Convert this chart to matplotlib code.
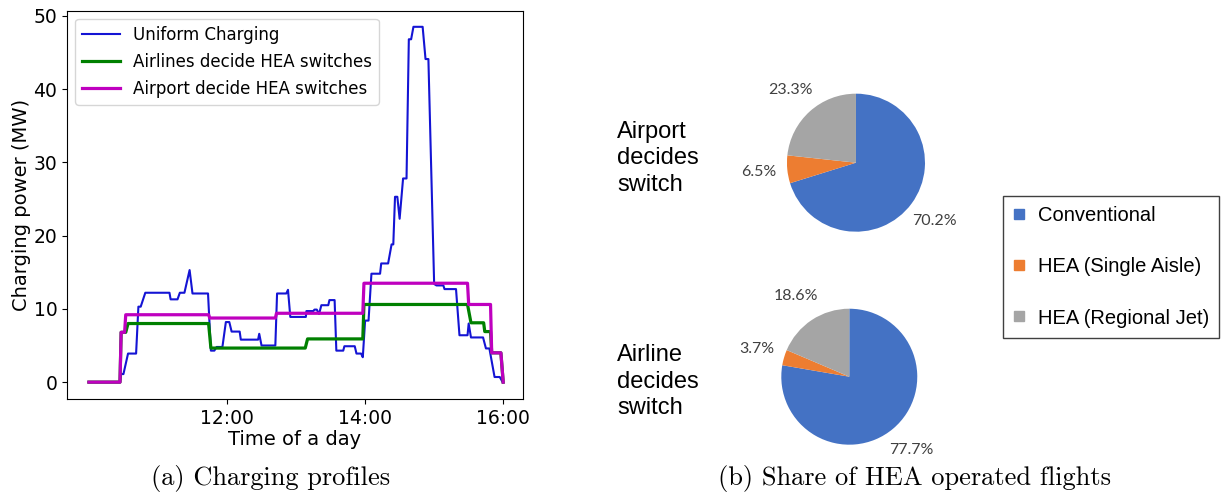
import matplotlib

matplotlib.use("Agg")
import matplotlib.pyplot as plt
import numpy as np
from matplotlib.lines import Line2D


# charging profiles, time in minutes after midnight, power in MW
UNIFORM_T = [600, 627, 628, 630, 634, 641, 643, 645, 649, 670, 671, 677, 679, 683,
             687.5, 690, 703.5, 706, 709, 711, 716, 719, 722, 724, 731, 732, 747, 748,
             750, 762, 763.5, 771.5, 773, 775, 788.5, 789, 795, 796, 798, 800, 802, 808,
             809, 813.5, 815, 821, 822, 831, 832.5, 836.5, 838, 840, 843, 845.5, 853,
             854, 860, 863, 864.5, 866, 868, 870, 873, 876, 878, 880, 882, 890, 892.5,
             895, 900, 902, 908, 909, 919, 922, 929, 930, 932, 942.5, 945, 948, 952.5,
             957, 959.5]
UNIFORM_P = [0, 0, 1.1, 1.1, 3.9, 3.9, 10.3, 10.3, 12.2, 12.2, 11.3, 11.3, 12.2, 12.2,
             15.3, 12.1, 12.1, 4.3, 4.3, 4.8, 4.8, 8.2, 8.2, 6.9, 6.9, 5.8, 5.8, 6.6,
             5.0, 5.0, 12.1, 12.1, 12.6, 8.9, 8.9, 9.7, 9.7, 9.9, 9.9, 9.3, 10.5, 10.5,
             11.2, 11.2, 4.3, 4.3, 4.9, 4.9, 3.9, 3.9, 3.4, 8.4, 8.4, 14.8, 14.8,
             16.2, 16.2, 18.8, 18.8, 25.3, 25.3, 22.3, 27.8, 27.8, 46.8, 46.8, 48.5, 48.5, 44.1,
             44.1, 13.4, 13.2, 13.2, 12.7, 12.7, 6.4, 6.4, 8.0, 6.1, 6.1, 4.6, 4.6, 0.7,
             0.7, 0]

AIRLINES_T = [600, 627, 628, 632, 634, 704, 706, 788, 790, 838, 839, 929, 932, 943,
              944, 949, 950, 958, 960]
AIRLINES_P = [0, 0, 6.8, 6.8, 8.0, 8.0, 4.65, 4.65, 5.9, 5.9, 10.6, 10.6, 8.1, 8.1,
              6.9, 6.9, 4.0, 4.0, 0]

AIRPORT_T = [600, 627, 628, 631, 632, 704, 705, 762, 763, 838, 839, 929, 930, 949,
             950, 958, 960]
AIRPORT_P = [0, 0, 6.8, 6.8, 9.2, 9.2, 8.75, 8.75, 9.4, 9.4, 13.5, 13.5, 10.6, 10.6,
             4.0, 4.0, 0]

TIME_TICKS = [720, 840, 960]
TIME_LABELS = ["12:00", "14:00", "16:00"]

# share of flights by aircraft type
PIE_LABELS = ["Conventional", "HEA (Single Aisle)", "HEA (Regional Jet)"]
PIE_COLORS = ["#4472C4", "#ED7D31", "#A5A5A5"]
AIRPORT_SHARE = [70.2, 6.5, 23.3]
AIRLINE_SHARE = [77.7, 3.7, 18.6]


def draw_pie(ax, shares):
    ax.pie(
        shares,
        colors=PIE_COLORS,
        startangle=90,
        counterclock=False,
        autopct="%.1f%%",
        pctdistance=1.42,
        wedgeprops={"linewidth": 0},
        textprops={"family": "Lato", "fontsize": 11.5, "color": "#404040"},
    )
    ax.set_aspect("equal")


def main() -> None:
    fig = plt.figure(figsize=(12.28, 4.93), dpi=100)

    ax = fig.add_axes([0.0546, 0.1907, 0.3711, 0.7876])
    ax.plot(UNIFORM_T, UNIFORM_P, color="#1414d4", lw=1.5, label="Uniform Charging")
    ax.plot(AIRLINES_T, AIRLINES_P, color="green", lw=2.3, label="Airlines decide HEA switches")
    ax.plot(AIRPORT_T, AIRPORT_P, color="m", lw=2.3, label="Airport decide HEA switches")
    ax.set_xlim(581, 977)
    ax.set_ylim(-2.3, 50.7)
    ax.set_xticks(TIME_TICKS, TIME_LABELS)
    ax.set_yticks(np.arange(0, 51, 10))
    ax.tick_params(labelsize=13.5)
    ax.set_xlabel("Time of a day", fontsize=14, labelpad=2)
    ax.set_ylabel("Charging power (MW)", fontsize=14, labelpad=2)
    ax.legend(loc="upper left", fontsize=12, handlelength=2.25, labelspacing=0.55)

    ax_top = fig.add_axes([0.6268, 0.495, 0.1405, 0.35])
    draw_pie(ax_top, AIRPORT_SHARE)
    ax_bottom = fig.add_axes([0.6224, 0.0635, 0.1384, 0.3448])
    draw_pie(ax_bottom, AIRLINE_SHARE)

    fig.text(0.5024, 0.6789, "Airport\ndecides\nswitch", family="Liberation Sans",
             fontsize=17, ha="left", va="center", linespacing=1.28)
    fig.text(0.5024, 0.2258, "Airline\ndecides\nswitch", family="Liberation Sans",
             fontsize=17, ha="left", va="center", linespacing=1.28)

    handles = [
        Line2D([], [], marker="s", linestyle="none", markersize=7.2,
               markerfacecolor=c, markeredgecolor=c)
        for c in PIE_COLORS
    ]
    fig.legend(
        handles, PIE_LABELS,
        loc="upper left", bbox_to_anchor=(0.817, 0.6024), borderaxespad=0,
        prop={"family": "Liberation Sans", "size": 14.5},
        fancybox=False, framealpha=1, edgecolor="#404040",
        labelspacing=1.6, borderpad=0.5, handlelength=0.6, handletextpad=0.62,
    )

    fig.text(0.2207, 0.0304, "(a) Charging profiles", family="cmr10",
             fontsize=19, ha="center", va="center")
    fig.text(0.7445, 0.0304, "(b) Share of HEA operated flights", family="cmr10",
             fontsize=19, ha="center", va="center")

    fig.savefig("out.png", dpi=100)
    plt.close(fig)


if __name__ == "__main__":
    main()
